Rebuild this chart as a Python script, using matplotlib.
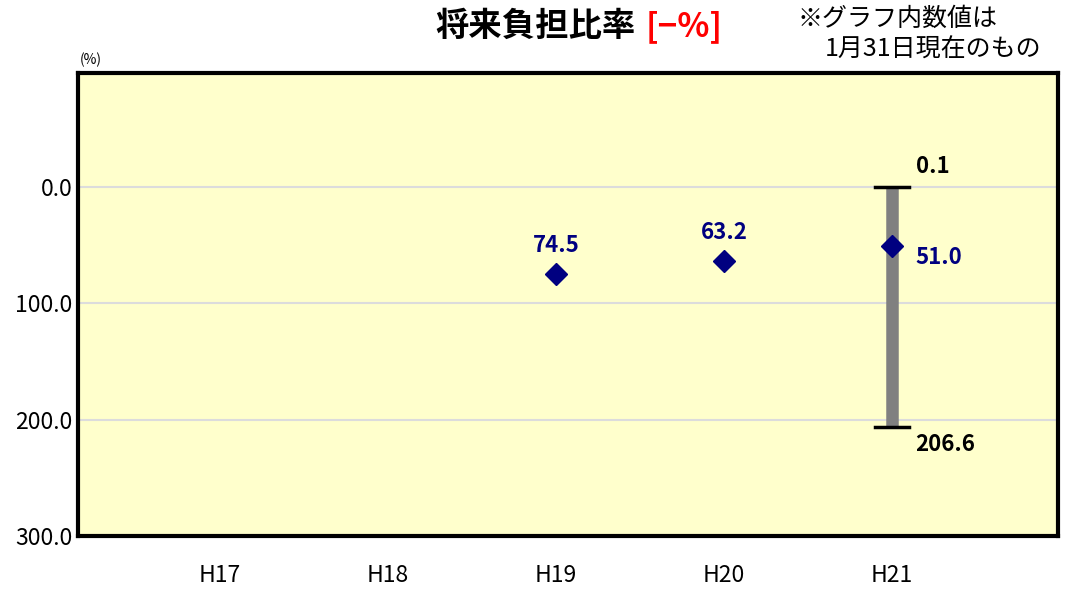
import matplotlib
matplotlib.use("Agg")
import matplotlib.pyplot as plt
import numpy as np

plt.rcParams['font.family'] = ['Noto Sans CJK JP', 'DejaVu Sans']

categories = ["H17", "H18", "H19", "H20", "H21"]
values = [np.nan, np.nan, 74.5, 63.2, 51.0]
range_low = [np.nan, np.nan, np.nan, np.nan, 0.1]
range_high = [np.nan, np.nan, np.nan, np.nan, 206.6]
yticks = [0, 100, 200, 300]
ytick_labels = ["0.0", "100.0", "200.0", "300.0"]

fig = plt.figure(figsize=(10.66, 5.89), dpi=100)
ax = fig.add_axes([0.0732, 0.09, 0.9193, 0.786])
ax.set_facecolor("#FFFFCC")

x = np.arange(len(categories))
ax.set_xlim(-0.845, 4.988)
ax.set_ylim(300, -98)

for yv in [0, 100, 200]:
    ax.axhline(yv, color="#DCDCDC", lw=1.5, zorder=1)

# range bar
for xi, lo, hi in zip(x, range_low, range_high):
    if np.isnan(lo):
        continue
    ax.plot([xi, xi], [lo, hi], color="#808080", lw=9, solid_capstyle="butt", zorder=2)
    ax.plot([xi - 0.1, xi + 0.1], [lo, lo], color="black", lw=2.5, zorder=3)
    ax.plot([xi - 0.1, xi + 0.1], [hi, hi], color="black", lw=2.5, zorder=3)
    ax.text(xi + 0.14, lo - 8, f"{lo:.1f}", ha="left", va="bottom", fontsize=16,
            fontweight="bold", color="black")
    ax.text(xi + 0.14, hi + 5, f"{hi:.1f}", ha="left", va="top", fontsize=16,
            fontweight="bold", color="black")

ax.plot(x, values, linestyle="none", marker="D", markersize=11, color="#000080", zorder=4)
for xi, v in zip(x, values):
    if np.isnan(v):
        continue
    if not np.isnan(range_low[xi]):
        ax.text(xi + 0.14, v + 10, f"{v:.1f}", ha="left", va="center", fontsize=16,
                fontweight="bold", color="#000080")
    else:
        ax.text(xi, v - 14, f"{v:.1f}", ha="center", va="bottom", fontsize=16,
                fontweight="bold", color="#000080")

ax.set_xticks(x)
ax.set_xticklabels(categories, fontsize=16.5)
ax.set_yticks(yticks)
ax.set_yticklabels(ytick_labels, fontsize=16.5)
ax.tick_params(axis="both", length=0)
ax.tick_params(axis="y", pad=4)
ax.tick_params(axis="x", pad=20)
for sp in ax.spines.values():
    sp.set_linewidth(3)
    sp.set_color("black")

fig.text(0.075, 0.898, "(%)", fontsize=10, ha="left", va="center")
t1 = fig.text(0.408, 0.955, "将来負担比率", fontsize=24, fontweight="bold", ha="left", va="center")
fig.canvas.draw()
bb = t1.get_window_extent()
fig.text((bb.x1 + 10) / fig.bbox.width, 0.955, "[−%]", fontsize=24, fontweight="bold",
         ha="left", va="center", color="red")
fig.text(0.748, 0.968, "※グラフ内数値は", fontsize=18, ha="left", va="center")
fig.text(0.774, 0.915, "1月31日現在のもの", fontsize=18, ha="left", va="center")

fig.savefig("out.png", dpi=100)
